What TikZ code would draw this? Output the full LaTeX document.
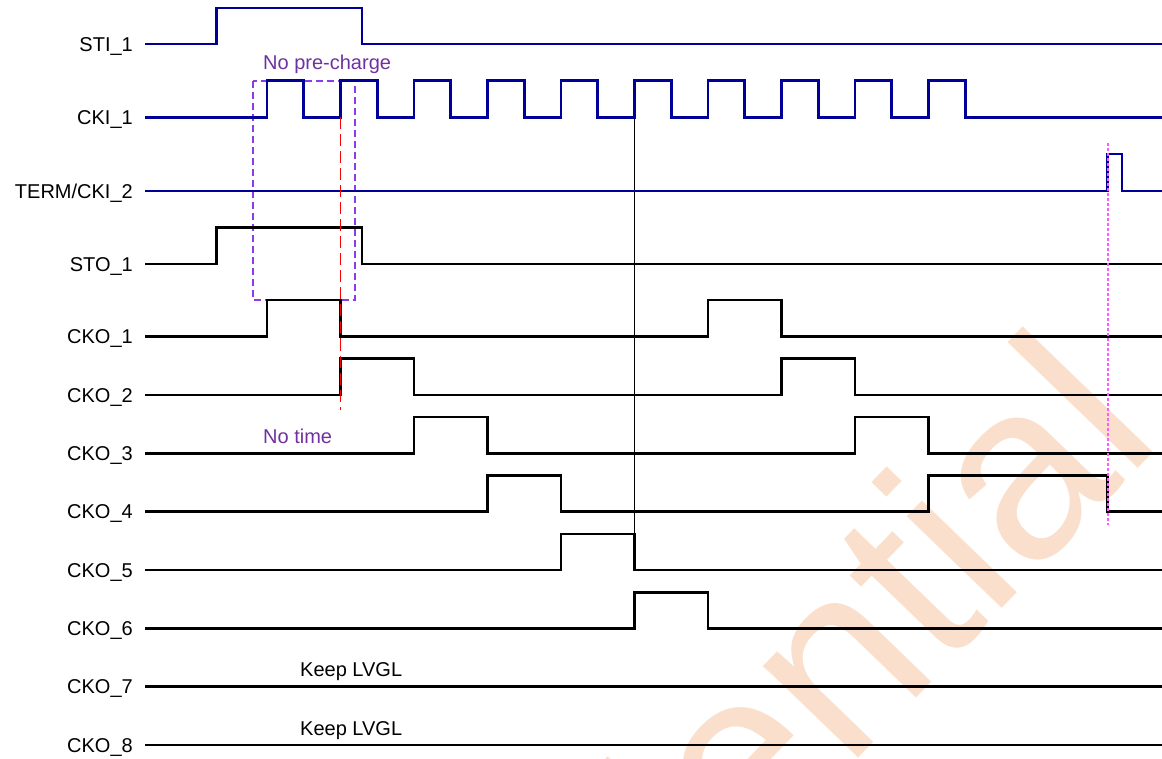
\documentclass[tikz,border=0pt]{standalone}
\usepackage{fontspec}
\setmainfont{Liberation Sans}
\definecolor{sigblue}{RGB}{0,0,153}
\definecolor{notepurple}{RGB}{112,48,160}
\definecolor{boxpurple}{RGB}{140,60,230}
\definecolor{wmorange}{RGB}{250,224,204}
\definecolor{markmag}{RGB}{255,90,255}
\tikzset{
  sig/.style={line width=2.6pt, line join=miter, line cap=butt},
  bluesig/.style={sig, draw=sigblue},
  blacksig/.style={sig, draw=black},
  lbl/.style={font=\fontsize{20}{24}\selectfont, inner sep=0pt, anchor=base east},
  note/.style={font=\fontsize{20}{24}\selectfont, text=notepurple, inner sep=0pt, anchor=base west},
  keepnote/.style={font=\fontsize{20}{24}\selectfont, text=black, inner sep=0pt, anchor=base west},
  wmark/.style={rotate=46, text=wmorange, font=\fontsize{250}{250}\selectfont, inner sep=0pt, anchor=base east}
}
\begin{document}
\begin{tikzpicture}[x=1pt,y=-1pt]
\useasboundingbox (0,0) rectangle (1162,759);
\begin{scope}
\clip (0,0) rectangle (1162,759);
\node[wmark] (wm) at (1165,440) {Confidential};
\end{scope}
% labels
\node[lbl] (lsti) at (133,51.2) {STI\_1};
\node[lbl] (lcki) at (133,124.7) {CKI\_1};
\node[lbl] (lterm) at (133,198.2) {TERM/CKI\_2};
\node[lbl] (lsto) at (133,271.2) {STO\_1};
\node[lbl] (lcko1) at (133,343.9) {CKO\_1};
\node[lbl] (lcko2) at (133,402.2) {CKO\_2};
\node[lbl] (lcko3) at (133,460.5) {CKO\_3};
\node[lbl] (lcko4) at (133,518.9) {CKO\_4};
\node[lbl] (lcko5) at (133,577.2) {CKO\_5};
\node[lbl] (lcko6) at (133,635.5) {CKO\_6};
\node[lbl] (lcko7) at (133,693.9) {CKO\_7};
\node[lbl] (lcko8) at (133,752.2) {CKO\_8};
% notes
\node[note] (npre) at (263,69.3) {No pre-charge};
\node[note] (ntime) at (263,443.3) {No time};
\node[keepnote] (keep7) at (300,676) {Keep LVGL};
\node[keepnote] (keep8) at (300,735) {Keep LVGL};
% marker lines
\draw[boxpurple, line width=1.4pt, dash pattern=on 7pt off 4pt] (253,81) rectangle (355,300);
\draw[black, line width=1.4pt] (634.5,117.5) -- (634.5,570);
% inputs
\draw[bluesig] (145,44) -- (216.5,44) -- (216.5,8) -- (362,8) -- (362,44) -- (1162,44);
\draw[bluesig] (145,117.5) \foreach \k in {0,...,9}{ -- ({267+73.5*\k},117.5) -- ++(0,-37) -- ++(36.75,0) -- ++(0,37)} -- (1162,117.5);
\draw[bluesig] (145,191) -- (1107.5,191) -- (1107.5,154) -- (1122,154) -- (1122,191) -- (1162,191);
% outputs
\draw[blacksig] (145,264) -- (216.5,264) -- (216.5,227.5) -- (362,227.5) -- (362,264) -- (1162,264);
\draw[blacksig] (145,336.7) -- (267,336.7) -- ++(0,-36.5) -- (340.5,300.2) -- ++(0,36.5) -- (708,336.7) -- ++(0,-36.5) -- (781.5,300.2) -- ++(0,36.5) -- (1162,336.7);
\draw[blacksig] (145,395) -- (340.5,395) -- ++(0,-36.5) -- (414,358.5) -- ++(0,36.5) -- (781.5,395) -- ++(0,-36.5) -- (855,358.5) -- ++(0,36.5) -- (1162,395);
\draw[blacksig] (145,453.3) -- (414,453.3) -- ++(0,-36.5) -- (487.5,416.8) -- ++(0,36.5) -- (855,453.3) -- ++(0,-36.5) -- (928.5,416.8) -- ++(0,36.5) -- (1162,453.3);
\draw[blacksig] (145,511.7) -- (487.5,511.7) -- ++(0,-36) -- (561,475.7) -- ++(0,36) -- (928.5,511.7) -- ++(0,-36) -- (1107.5,475.7) -- ++(0,36) -- (1162,511.7);
\draw[blacksig] (145,570) -- (561,570) -- ++(0,-36) -- (634.5,534) -- ++(0,36) -- (1162,570);
\draw[blacksig] (145,628.3) -- (634.5,628.3) -- ++(0,-36) -- (708,592.3) -- ++(0,36) -- (1162,628.3);
\draw[blacksig] (145,686.7) -- (1162,686.7);
\draw[blacksig] (145,745) -- (1162,745);
% overlays
\draw[red, line width=1.9pt, dash pattern=on 12pt off 5pt] (340.5,117.5) -- (340.5,410);
\draw[markmag, line width=1.9pt, dash pattern=on 3pt off 2pt] (1108,143) -- (1108,525);
\end{tikzpicture}
\end{document}
